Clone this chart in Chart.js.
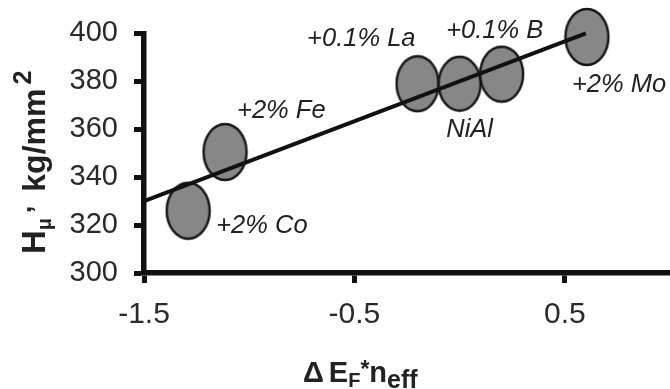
<!DOCTYPE html>
<html><head><meta charset="utf-8">
<script src="https://cdn.jsdelivr.net/npm/chart.js@4.4.0/dist/chart.umd.min.js"></script>
<style>html,body{margin:0;padding:0;background:#fff}#wrap{width:670px;height:389px;position:relative}</style>
</head><body><div id="wrap"><canvas id="c" width="670" height="389"></canvas></div>
<script>
// ---- data ----
const sampleNames = ['+2% Co', '+2% Fe', '+0.1% La', 'NiAl', '+0.1% B', '+2% Mo'];
const deltaEfNeff = [-1.29, -1.115, -0.20, 0.00, 0.20, 0.605];
const hardness    = [326, 350.5, 379, 379, 383, 398.5];
const fitX = [-1.5, 0.6];
const fitY = [330, 400];
const xTicks = [-1.5, -0.5, 0.5];
const yTicks = [300, 320, 340, 360, 380, 400];

// ---- styling (not data) ----
const labelPlace = [
  {dx: 28, dy: 22, align: 'left'},
  {dx: 12, dy: -34, align: 'left'},
  {dx: -2, dy: -38, align: 'right'},
  {dx: 10, dy: 53, align: 'center'},
  {dx: -7, dy: -36, align: 'center'},
  {dx: -15, dy: 55, align: 'left'}
];
const ellipseSize = [[43,56],[43,56],[42,55],[42,54],[43,55],[43,56]];

function ellipse(w, h) {
  const c = document.createElement('canvas');
  c.width = w + 4; c.height = h + 4;
  const g = c.getContext('2d');
  g.beginPath();
  g.ellipse(c.width / 2, c.height / 2, w / 2, h / 2, 0, 0, Math.PI * 2);
  g.fillStyle = '#878787';
  g.fill();
  g.lineWidth = 2.4;
  g.strokeStyle = '#151515';
  g.stroke();
  return c;
}
const styles = ellipseSize.map(s => ellipse(s[0], s[1]));

const FONT = '"Liberation Sans", Arial, sans-serif';

const labelPlugin = {
  id: 'labels',
  afterDatasetsDraw(chart) {
    const meta = chart.getDatasetMeta(1);
    const ctx = chart.ctx;
    ctx.save();
    ctx.font = 'italic 25.5px ' + FONT;
    ctx.fillStyle = '#222';
    ctx.textBaseline = 'alphabetic';
    meta.data.forEach((el, i) => {
      const p = labelPlace[i];
      ctx.textAlign = p.align;
      ctx.fillText(sampleNames[i], el.x + p.dx, el.y + p.dy);
    });
    ctx.restore();
  }
};

const titlePlugin = {
  id: 'titles',
  afterDraw(chart) {
    const ctx = chart.ctx;
    ctx.save();
    ctx.fillStyle = '#222';
    ctx.textAlign = 'left';
    ctx.textBaseline = 'alphabetic';
    // Y title (rotated)
    ctx.translate(45, 254);
    ctx.rotate(-Math.PI / 2);
    let x = 0;
    const seg = (t, size, dy, gapAfter) => {
      ctx.font = 'bold ' + size + 'px ' + FONT;
      ctx.fillText(t, x, dy);
      x += ctx.measureText(t).width + (gapAfter || 0);
    };
    seg('H', 33, 0, 0);
    seg('\u03bc', 20, 6, 5);
    seg(',', 26, -14, 14);
    seg('kg/mm', 32, 0, 4);
    seg('2', 25, -14, 0);
    ctx.restore();

    // X title
    ctx.save();
    ctx.fillStyle = '#222';
    ctx.textAlign = 'left';
    ctx.textBaseline = 'alphabetic';
    ctx.translate(303, 382);
    x = 0;
    const segx = (t, size, dy, gapAfter) => {
      ctx.font = 'bold ' + size + 'px ' + FONT;
      ctx.fillText(t, x, dy);
      x += ctx.measureText(t).width + (gapAfter || 0);
    };
    segx('\u0394', 29, 0, 5);
    segx('E', 29, 0, 0);
    segx('F', 20, 5, 0);
    segx('*', 23, -5, 0);
    segx('n', 29, 0, 0);
    segx('eff', 25, 6, 0);
    ctx.restore();
  }
};

new Chart(document.getElementById('c'), {
  data: {
    datasets: [
      {
        type: 'line',
        data: fitX.map((v, i) => ({x: v, y: fitY[i]})),
        borderColor: '#111',
        borderWidth: 4,
        pointRadius: 0,
        fill: false,
        clip: false
      },
      {
        type: 'scatter',
        data: deltaEfNeff.map((v, i) => ({x: v, y: hardness[i]})),
        pointStyle: styles,
        pointRadius: 22,
        clip: false
      }
    ]
  },
  options: {
    responsive: false,
    animation: false,
    events: [],
    layout: {autoPadding: false, padding: {top: 33, right: 0, left: 0, bottom: 0}},
    plugins: {legend: {display: false}, tooltip: {enabled: false}},
    scales: {
      x: {
        type: 'linear',
        min: -1.5,
        max: 1.0,
        afterBuildTicks: s => { s.ticks = xTicks.map(v => ({value: v})); },
        afterFit: s => { s.height = 116; },
        ticks: {
          autoSkip: false, maxRotation: 0, padding: 14,
          color: '#2a2a2a',
          font: {family: FONT, size: 30},
          callback: v => String(v)
        },
        grid: {drawOnChartArea: false, drawTicks: true, tickLength: 10, tickWidth: 5, tickColor: '#111'},
        border: {display: true, width: 5.5, color: '#111'}
      },
      y: {
        type: 'linear',
        min: 300,
        max: 400,
        afterBuildTicks: s => { s.ticks = yTicks.map(v => ({value: v})); },
        afterFit: s => { s.width = 144; },
        ticks: {
          padding: 16,
          color: '#2a2a2a',
          font: {family: FONT, size: 29},
          callback: v => String(v)
        },
        grid: {drawOnChartArea: false, drawTicks: true, tickLength: 10, tickWidth: 5, tickColor: '#111'},
        border: {display: true, width: 5.5, color: '#111'}
      }
    }
  },
  plugins: [labelPlugin, titlePlugin]
});
</script>
</body></html>
